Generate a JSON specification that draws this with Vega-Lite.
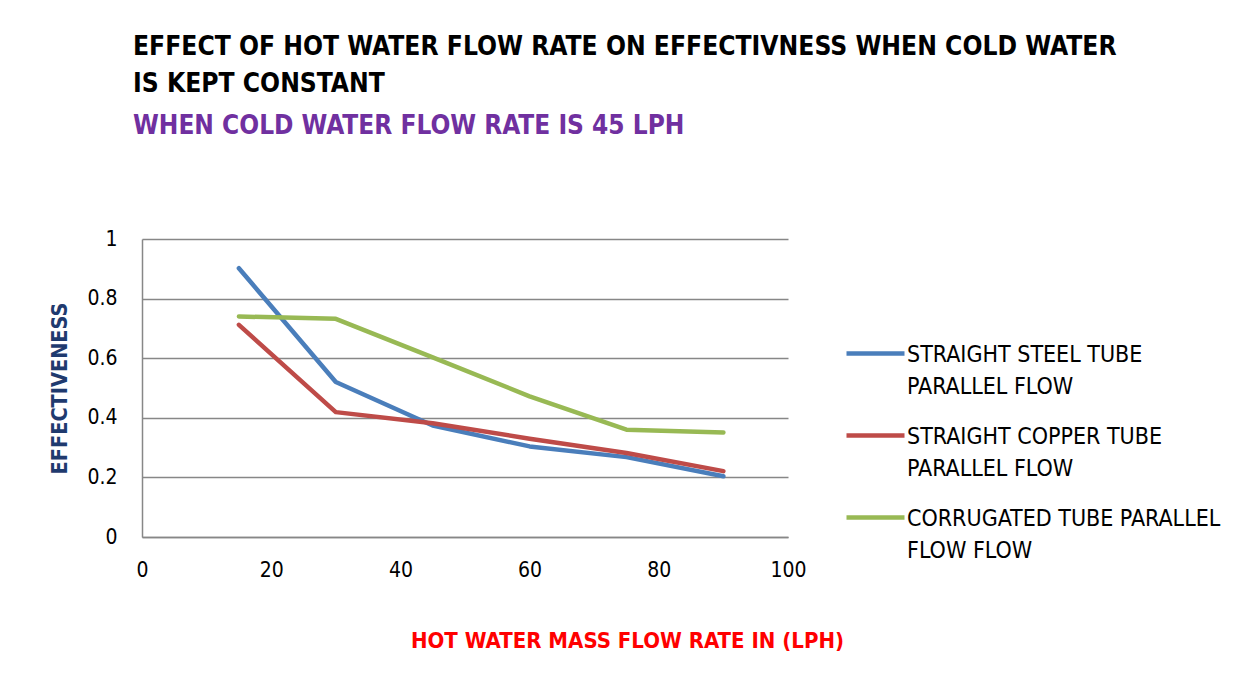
{
  "$schema": "https://vega.github.io/schema/vega-lite/v6.json",
  "autosize": {"type": "none"},
  "width": 646,
  "height": 298,
  "padding": {"left": 142, "top": 239, "right": 463, "bottom": 151},
  "background": "white",
  "config": {
    "font": "'DejaVu Sans Condensed', 'Liberation Sans', sans-serif",
    "view": {"stroke": null}
  },
  "title": {
    "text": ["EFFECT OF HOT WATER FLOW RATE ON EFFECTIVNESS WHEN COLD WATER", "IS KEPT CONSTANT"],
    "subtitle": "WHEN COLD WATER FLOW RATE IS 45 LPH",
    "anchor": "start",
    "frame": "group",
    "dx": -9,
    "offset": 89,
    "font": "'DejaVu Sans Condensed', 'Liberation Sans', sans-serif",
    "fontSize": 26.2,
    "fontWeight": "bold",
    "color": "#000000",
    "lineHeight": 37,
    "subtitleFont": "'DejaVu Sans Condensed', 'Liberation Sans', sans-serif",
    "subtitleFontSize": 26,
    "subtitleFontWeight": "bold",
    "subtitleColor": "#7030A0",
    "subtitlePadding": 16
  },
  "data": {
    "values": [
      {"flow": 15, "eff": 0.902, "series": "STRAIGHT STEEL TUBE PARALLEL FLOW"},
      {"flow": 30, "eff": 0.520, "series": "STRAIGHT STEEL TUBE PARALLEL FLOW"},
      {"flow": 45, "eff": 0.374, "series": "STRAIGHT STEEL TUBE PARALLEL FLOW"},
      {"flow": 60, "eff": 0.304, "series": "STRAIGHT STEEL TUBE PARALLEL FLOW"},
      {"flow": 75, "eff": 0.268, "series": "STRAIGHT STEEL TUBE PARALLEL FLOW"},
      {"flow": 90, "eff": 0.204, "series": "STRAIGHT STEEL TUBE PARALLEL FLOW"},
      {"flow": 15, "eff": 0.712, "series": "STRAIGHT COPPER TUBE PARALLEL FLOW"},
      {"flow": 30, "eff": 0.419, "series": "STRAIGHT COPPER TUBE PARALLEL FLOW"},
      {"flow": 45, "eff": 0.382, "series": "STRAIGHT COPPER TUBE PARALLEL FLOW"},
      {"flow": 60, "eff": 0.330, "series": "STRAIGHT COPPER TUBE PARALLEL FLOW"},
      {"flow": 75, "eff": 0.282, "series": "STRAIGHT COPPER TUBE PARALLEL FLOW"},
      {"flow": 90, "eff": 0.221, "series": "STRAIGHT COPPER TUBE PARALLEL FLOW"},
      {"flow": 15, "eff": 0.740, "series": "CORRUGATED TUBE PARALLEL FLOW FLOW"},
      {"flow": 30, "eff": 0.732, "series": "CORRUGATED TUBE PARALLEL FLOW FLOW"},
      {"flow": 45, "eff": 0.603, "series": "CORRUGATED TUBE PARALLEL FLOW FLOW"},
      {"flow": 60, "eff": 0.472, "series": "CORRUGATED TUBE PARALLEL FLOW FLOW"},
      {"flow": 75, "eff": 0.360, "series": "CORRUGATED TUBE PARALLEL FLOW FLOW"},
      {"flow": 90, "eff": 0.351, "series": "CORRUGATED TUBE PARALLEL FLOW FLOW"}
    ]
  },
  "mark": {"type": "line", "strokeWidth": 4.5, "strokeCap": "round", "strokeJoin": "round"},
  "encoding": {
    "x": {
      "field": "flow",
      "type": "quantitative",
      "scale": {"domain": [0, 100], "nice": false},
      "axis": {
        "values": [0, 20, 40, 60, 80, 100],
        "grid": false,
        "ticks": false,
        "domainColor": "#878787",
        "domainWidth": 1.5,
        "labelFontSize": 21,
        "labelColor": "#000000",
        "labelPadding": 22,
        "labelFlush": false,
        "title": "HOT WATER MASS FLOW RATE IN (LPH)",
        "titleFontSize": 22,
        "titleFontWeight": "bold",
        "titleColor": "#FF0000",
        "titleX": 485,
        "titleY": 103,
        "titleAlign": "center",
        "titleBaseline": "middle"
      }
    },
    "y": {
      "field": "eff",
      "type": "quantitative",
      "scale": {"domain": [0, 1], "nice": false},
      "axis": {
        "values": [0, 0.2, 0.4, 0.6, 0.8, 1],
        "format": "~g",
        "grid": true,
        "gridColor": "#878787",
        "gridWidth": 1.5,
        "ticks": false,
        "domainColor": "#878787",
        "domainWidth": 1.5,
        "labelFontSize": 21,
        "labelColor": "#000000",
        "labelPadding": 25,
        "labelFlush": false,
        "title": "EFFECTIVENESS",
        "titleFontSize": 21.5,
        "titleFontWeight": "bold",
        "titleColor": "#1F3A6E",
        "titlePadding": 15
      }
    },
    "color": {
      "field": "series",
      "type": "nominal",
      "sort": ["STRAIGHT STEEL TUBE PARALLEL FLOW", "STRAIGHT COPPER TUBE PARALLEL FLOW", "CORRUGATED TUBE PARALLEL FLOW FLOW"],
      "scale": {
        "domain": ["STRAIGHT STEEL TUBE PARALLEL FLOW", "STRAIGHT COPPER TUBE PARALLEL FLOW", "CORRUGATED TUBE PARALLEL FLOW FLOW"],
        "range": ["#4A7EBB", "#BE4B48", "#98B954"]
      },
      "legend": {
        "title": null,
        "orient": "none",
        "legendX": 702,
        "legendY": 83,
        "symbolType": "stroke",
        "symbolSize": 3364,
        "symbolStrokeWidth": 4.5,
        "labelFontSize": 23,
        "labelColor": "#000000",
        "labelLimit": 400,
        "labelOffset": 0,
        "labelBaseline": "alphabetic",
        "rowPadding": 5,
        "labelExpr": "datum.label == 'STRAIGHT STEEL TUBE PARALLEL FLOW' ? ['STRAIGHT STEEL TUBE', 'PARALLEL FLOW'] : datum.label == 'STRAIGHT COPPER TUBE PARALLEL FLOW' ? ['STRAIGHT COPPER TUBE', 'PARALLEL FLOW'] : ['CORRUGATED TUBE PARALLEL', 'FLOW FLOW']",
        "encode": {"labels": {"update": {"dy": {"value": 8}, "lineHeight": {"value": 32}}}}
      }
    }
  }
}
